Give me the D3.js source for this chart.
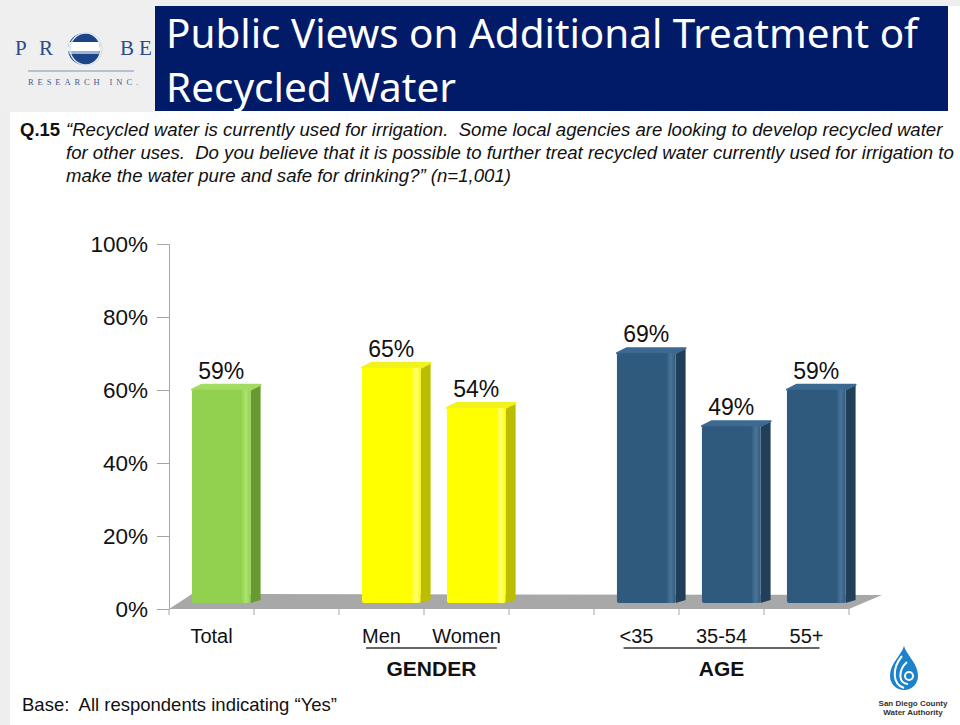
<!DOCTYPE html>
<html>
<head>
<meta charset="utf-8">
<script src="https://cdn.jsdelivr.net/npm/d3@7"></script>
<style>
  body { margin: 0; background: #fff; }
  svg { display: block; font-family: "Liberation Sans", Arial, sans-serif; }
  text { white-space: pre; }
</style>
</head>
<body>
<svg id="svg" width="960" height="725"></svg>
<script>
// chart data
var slots = ["Total", "gap1", "Men", "Women", "gap2", "<35", "35-54", "55+"];
var categories = ["Total", "Men", "Women", "<35", "35-54", "55+"];
var values = [59, 65, 54, 69, 49, 59];
var barGroup = ["total", "gender", "gender", "age", "age", "age"];
var groupNames = ["gender", "age"];
var groupLabels = ["GENDER", "AGE"];
var yTicks = [0, 20, 40, 60, 80, 100];

var titleLines = ["Public Views on Additional Treatment of", "Recycled Water"];
var questionLines = [
    "\u201CRecycled water is currently used for irrigation.  Some local agencies are looking to develop recycled water",
    "for other uses.  Do you believe that it is possible to further treat recycled water currently used for irrigation to",
    "make the water pure and safe for drinking?\u201D (n=1,001)"
];
var baseNote = "Base:  All respondents indicating \u201CYes\u201D";

var colors = {
    total:  {front: "#92D050", light: "#AEE46C", side: "#679B30", top: "#A2DC62"},
    gender: {front: "#FFFF00", light: "#FFFF7A", side: "#BDBD00", top: "#F2F21E"},
    age:    {front: "#30597E", light: "#4A7499", side: "#223F5A", top: "#3D6A92"}
};

// 3d depth of bars and floor
var DX = 10, DY = 5;

var svg = d3.select("svg");
var defs = svg.append("defs");

// slide background
svg.append("rect").attr("width", 960).attr("height", 725).attr("fill", "#fff");
svg.append("rect").attr("width", 10).attr("height", 725).attr("fill", "#EEEEEE");
svg.append("rect").attr("width", 960).attr("height", 6).attr("fill", "#EEEEEE");
svg.append("rect").attr("width", 155).attr("height", 112).attr("fill", "#EFEFEF");

// title box
svg.append("rect").attr("x", 155).attr("y", 6).attr("width", 793).attr("height", 105).attr("fill", "#021B69");
svg.selectAll(".title").data(titleLines).enter().append("text")
    .attr("class", "title")
    .attr("x", 166)
    .attr("y", function(d, i) { return 48 + i * 54; })
    .attr("fill", "#fff")
    .style("font-family", "'Noto Sans', 'Open Sans', sans-serif")
    .style("font-size", "40px")
    .attr("textLength", function(d, i) { return i === 0 ? 752 : 290; })
    .attr("lengthAdjust", "spacingAndGlyphs")
    .text(function(d) { return d; });

// probe research logo
function draw_probe_logo() {
    var g = svg.append("g");
    var serif = "'Liberation Serif', 'DejaVu Serif', serif";
    [["P", 15], ["R", 39], ["B", 120], ["E", 139]].forEach(function(l) {
        g.append("text").attr("x", l[1]).attr("y", 55).text(l[0])
            .attr("fill", "#2A4C8A").style("font-family", serif).style("font-size", "21px");
    });
    defs.append("clipPath").attr("id", "probeClip")
        .append("circle").attr("cx", 84).attr("cy", 49).attr("r", 16);
    var c = g.append("g").attr("clip-path", "url(#probeClip)");
    c.append("rect").attr("x", 66).attr("y", 32).attr("width", 36).attr("height", 36).attr("fill", "#1B4587");
    c.append("rect").attr("x", 66).attr("y", 42).attr("width", 36).attr("height", 9).attr("fill", "#fff");
    c.append("rect").attr("x", 66).attr("y", 51).attr("width", 36).attr("height", 3).attr("fill", "#9DB3D6");
    g.append("circle").attr("cx", 86).attr("cy", 49).attr("r", 16).attr("fill", "none")
        .attr("stroke", "#D8E2F0").attr("stroke-width", 1.5);
    g.append("line").attr("x1", 28).attr("x2", 134).attr("y1", 71).attr("y2", 71)
        .attr("stroke", "#7A93BC").attr("stroke-width", 1);
    g.append("text").attr("x", 28).attr("y", 85).text("RESEARCH INC.")
        .attr("fill", "#3F5F93").style("font-family", serif).style("font-size", "8.5px")
        .style("letter-spacing", "3.9px");
}
draw_probe_logo();

// question text
svg.append("text").attr("x", 20).attr("y", 136).text("Q.15")
    .style("font-weight", "bold").style("font-size", "18.5px").attr("fill", "#111");
svg.selectAll(".question").data(questionLines).enter().append("text")
    .attr("class", "question")
    .attr("x", 66)
    .attr("y", function(d, i) { return 136 + i * 23; })
    .style("font-style", "italic").style("font-size", "18.6px").attr("fill", "#111")
    .text(function(d) { return d; });

// scales
var x = d3.scaleBand().domain(slots).range([169, 849]);
var y = d3.scaleLinear().domain([0, 100]).range([609, 244]);
var bw = x.bandwidth();

// floor
var floorBack = 14;
svg.append("path")
    .attr("d", "M" + x.range()[0] + "," + y(0) +
        "L" + x.range()[1] + "," + y(0) +
        "L" + (x.range()[1] + 33) + "," + (y(0) - floorBack) +
        "L" + (x.range()[0] + 23) + "," + (y(0) - floorBack - 1) + "Z")
    .attr("fill", "#A8A8A8");

// axis
var axis = svg.append("g").attr("transform", "translate(169,0)")
    .call(d3.axisLeft(y).tickValues(yTicks).tickSize(12).tickFormat(function(d) { return d + "%"; }));
axis.select(".domain").attr("stroke", "#A6A6A6");
axis.selectAll(".tick line").attr("stroke", "#A6A6A6");
axis.selectAll(".tick text").attr("x", -21).attr("fill", "#111")
    .style("font-size", "22.5px").style("font-family", "'Liberation Sans', Arial, sans-serif");

// x tick marks at the slot edges
var edges = slots.map(function(s) { return x(s); }).concat([x.range()[1]]);
svg.selectAll(".xtick").data(edges).enter().append("line")
    .attr("x1", function(d) { return d; }).attr("x2", function(d) { return d; })
    .attr("y1", y(0)).attr("y2", y(0) + 6)
    .attr("stroke", "#A6A6A6");

// bar gradients
Object.keys(colors).forEach(function(k) {
    var c = colors[k];
    var gr = defs.append("linearGradient").attr("id", "grad_" + k)
        .attr("x1", 0).attr("x2", 1).attr("y1", 0).attr("y2", 0);
    gr.append("stop").attr("offset", "0%").attr("stop-color", c.front);
    gr.append("stop").attr("offset", "84%").attr("stop-color", c.front);
    gr.append("stop").attr("offset", "92%").attr("stop-color", c.light);
    gr.append("stop").attr("offset", "100%").attr("stop-color", c.front);
});

var bars = categories.map(function(c, i) {
    return {cat: c, value: values[i], group: barGroup[i]};
});

function bar_left(d) { return x(d.cat) + bw * 0.27; }
function bar_width() { return bw * 0.69; }
function bar_top(d) { return y(d.value) - 4; }
function bar_bottom() { return y(0) - 6; }

var barG = svg.append("g").attr("class", "bars");
var bar = barG.selectAll("g").data(bars).enter().append("g");

// side face
bar.append("path")
    .attr("d", function(d) {
        var xr = bar_left(d) + bar_width(), t = bar_top(d), b = bar_bottom();
        return "M" + xr + "," + t + "L" + (xr + DX) + "," + (t - DY) +
            "L" + (xr + DX) + "," + (b - DY + 2) + "L" + xr + "," + b + "Z";
    })
    .attr("fill", function(d) { return colors[d.group].side; });

// top face
bar.append("path")
    .attr("d", function(d) {
        var xl = bar_left(d), xr = xl + bar_width(), t = bar_top(d);
        return "M" + xl + "," + t + "L" + (xl + DX) + "," + (t - DY) +
            "L" + (xr + DX) + "," + (t - DY) + "L" + xr + "," + t + "Z";
    })
    .attr("fill", function(d) { return colors[d.group].top; })
    .attr("stroke", function(d) { return colors[d.group].top; })
    .attr("stroke-linejoin", "round")
    .attr("stroke-width", 2);

// front face
bar.append("rect")
    .attr("x", bar_left)
    .attr("y", bar_top)
    .attr("width", bar_width)
    .attr("height", function(d) { return bar_bottom() - bar_top(d); })
    .attr("rx", 2)
    .attr("fill", function(d) { return "url(#grad_" + d.group + ")"; });

// value labels
bar.append("text")
    .attr("x", function(d) { return bar_left(d) + bar_width() / 2; })
    .attr("y", function(d) { return bar_top(d) - DY - 6; })
    .attr("text-anchor", "middle")
    .attr("fill", "#111")
    .style("font-size", "23px")
    .text(function(d) { return d.value + "%"; });

// category labels
var catLabels = svg.selectAll(".catlabel").data(bars).enter().append("text")
    .attr("class", "catlabel")
    .attr("x", function(d) { return x(d.cat) + bw / 2; })
    .attr("y", 643)
    .attr("text-anchor", "middle")
    .attr("fill", "#111")
    .style("font-size", "20px")
    .text(function(d) { return d.cat; });

// group underline + label
groupNames.forEach(function(gname, gi) {
    var nodes = catLabels.filter(function(d) { return d.group === gname; }).nodes();
    var x0 = d3.min(nodes, function(n) { return n.getBBox().x; }) + 4;
    var x1 = d3.max(nodes, function(n) { var b = n.getBBox(); return b.x + b.width; }) - 4;
    svg.append("line").attr("x1", x0).attr("x2", x1).attr("y1", 648).attr("y2", 648)
        .attr("stroke", "#333").attr("stroke-width", 1.5);
    svg.append("text").attr("x", (x0 + x1) / 2).attr("y", 676)
        .attr("text-anchor", "middle").attr("fill", "#111")
        .style("font-size", "21px").style("font-weight", "bold")
        .text(groupLabels[gi]);
});

// base note
svg.append("text").attr("x", 22).attr("y", 711).attr("fill", "#111")
    .style("font-size", "18.5px").text(baseNote);

// san diego county water authority logo
function draw_sdcwa_logo() {
    var g = svg.append("g").attr("transform", "translate(904,0)");
    g.append("path")
        .attr("d", "M0,646 C3,656 14,663 14,676 A14,14 0 1 1 -14,676 C-14,663 -3,656 0,646 Z")
        .attr("fill", "#1C82C9");
    g.append("path").attr("d", "M-2,656 C-12,668 -12,684 0,688")
        .attr("fill", "none").attr("stroke", "#fff").attr("stroke-width", 2);
    g.append("path").attr("d", "M3,662 C-6,670 -6,684 4,684")
        .attr("fill", "none").attr("stroke", "#fff").attr("stroke-width", 2);
    g.append("circle").attr("cx", 5).attr("cy", 676).attr("r", 4)
        .attr("fill", "none").attr("stroke", "#fff").attr("stroke-width", 2);
    ["San Diego County", "Water Authority"].forEach(function(t, i) {
        g.append("text").attr("x", 9).attr("y", 706 + i * 9).attr("text-anchor", "middle")
            .attr("fill", "#333").style("font-size", "8px").style("font-weight", "bold")
            .text(t);
    });
}
draw_sdcwa_logo();
</script>
</body>
</html>
